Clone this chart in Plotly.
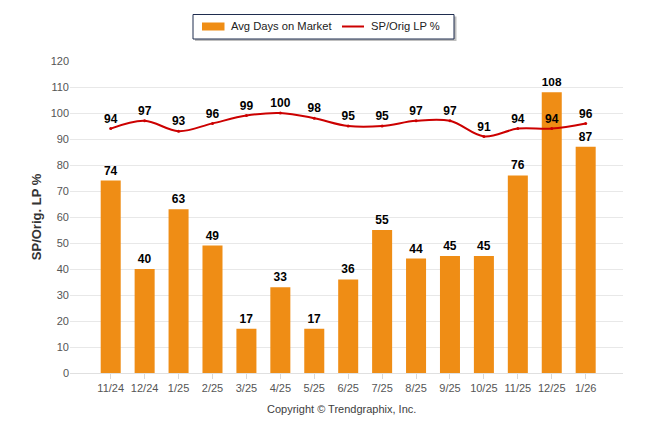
import plotly.graph_objects as go

categories = ["11/24", "12/24", "1/25", "2/25", "3/25", "4/25", "5/25", "6/25",
              "7/25", "8/25", "9/25", "10/25", "11/25", "12/25", "1/26"]
avg_days = [74, 40, 63, 49, 17, 33, 17, 36, 55, 44, 45, 45, 76, 108, 87]
sp_orig = [94, 97, 93, 96, 99, 100, 98, 95, 95, 97, 97, 91, 94, 94, 96]

BAR_COLOR = "#EF8D15"
LINE_COLOR = "#CC0000"
FONT = "Liberation Sans"

# page body margin offset (browser default 8px)
OFF = 8
W, H = 646 - OFF, 434 - OFF
# plot area in screenshot pixels: x 70..623, y 61..373
PX0, PX1, PY0, PY1 = 70, 623, 61, 373
L, T = PX0 - OFF, PY0 - OFF
R, B = W - (PX1 - OFF), H - (PY1 - OFF)
PW, PH = PX1 - PX0, PY1 - PY0


def px_x(p):
    return (p - PX0) / PW


def px_y(p):
    return (PY1 - p) / PH


fig = go.Figure()
fig.add_trace(go.Bar(
    x=categories, y=avg_days, name="Avg Days on Market",
    marker=dict(color=BAR_COLOR, line=dict(width=0)),
    width=0.59,
    text=[str(v) for v in avg_days], textposition="outside",
    textfont=dict(family=FONT, size=12, color="#000000", weight="bold"),
    cliponaxis=False, showlegend=False,
))
fig.add_trace(go.Scatter(
    x=categories, y=sp_orig, name="SP/Orig LP %",
    mode="lines+markers+text",
    line=dict(color=LINE_COLOR, width=2, shape="spline", smoothing=1),
    marker=dict(color=LINE_COLOR, size=3),
    text=[str(v) for v in sp_orig], textposition="top center",
    textfont=dict(family=FONT, size=12, color="#000000", weight="bold"),
    cliponaxis=False, showlegend=False,
))

shapes = []
# legend shadow and box
shapes.append(dict(type="rect", xref="paper", yref="paper", layer="above",
                   x0=px_x(195), x1=px_x(456.5), y0=px_y(41), y1=px_y(16.5),
                   line=dict(width=0), fillcolor="rgba(0,0,0,0.25)"))
shapes.append(dict(type="rect", xref="paper", yref="paper", layer="above",
                   x0=px_x(193), x1=px_x(454), y0=px_y(39), y1=px_y(14.5),
                   line=dict(color="#1F2D4F", width=1), fillcolor="#FFFFFF"))
# legend swatches
shapes.append(dict(type="rect", xref="paper", yref="paper", layer="above",
                   x0=px_x(202), x1=px_x(224.5), y0=px_y(30.5), y1=px_y(22.5),
                   line=dict(width=0), fillcolor=BAR_COLOR))
shapes.append(dict(type="line", xref="paper", yref="paper", layer="above",
                   x0=px_x(342), x1=px_x(364), y0=px_y(26.5), y1=px_y(26.5),
                   line=dict(color=LINE_COLOR, width=2)))

annotations = [
    dict(text="Avg Days on Market", xref="paper", yref="paper",
         x=px_x(229), y=px_y(26.5), xanchor="left", yanchor="middle",
         showarrow=False, font=dict(family=FONT, size=11.2, color="#222222")),
    dict(text="SP/Orig LP %", xref="paper", yref="paper",
         x=px_x(369), y=px_y(26.5), xanchor="left", yanchor="middle",
         showarrow=False, font=dict(family=FONT, size=11.2, color="#222222")),
    dict(text="Copyright © Trendgraphix, Inc.", xref="paper", yref="paper",
         x=px_x(341), y=px_y(409), xanchor="center", yanchor="middle",
         showarrow=False, font=dict(family=FONT, size=11, color="#404040")),
]

fig.update_layout(
    width=W, height=H,
    margin=dict(l=L, r=R, t=T, b=B, autoexpand=False),
    paper_bgcolor="#FFFFFF", plot_bgcolor="#FFFFFF",
    showlegend=False,
    bargap=0.4,
    shapes=shapes, annotations=annotations,
    font=dict(family=FONT, size=11, color="#606060"),
    xaxis=dict(
        type="category", range=[-1.2, 15.1],
        showgrid=False, zeroline=False,
        showline=True, linecolor="#E0E0E0", linewidth=1,
        ticks="outside", ticklen=5, tickcolor="#D8D8D8",
        tickfont=dict(family=FONT, size=11, color="#555555"),
    ),
    yaxis=dict(
        range=[0, 120], tick0=0, dtick=10,
        showgrid=True, gridcolor="#E8E8E8", gridwidth=1,
        zeroline=False, showline=False,
        tickfont=dict(family=FONT, size=11, color="#555555"),
        title=dict(text="SP/Orig. LP %", standoff=6,
                   font=dict(family=FONT, size=13, color="#333333", weight="bold")),
    ),
)

fig.write_html("out.html")
